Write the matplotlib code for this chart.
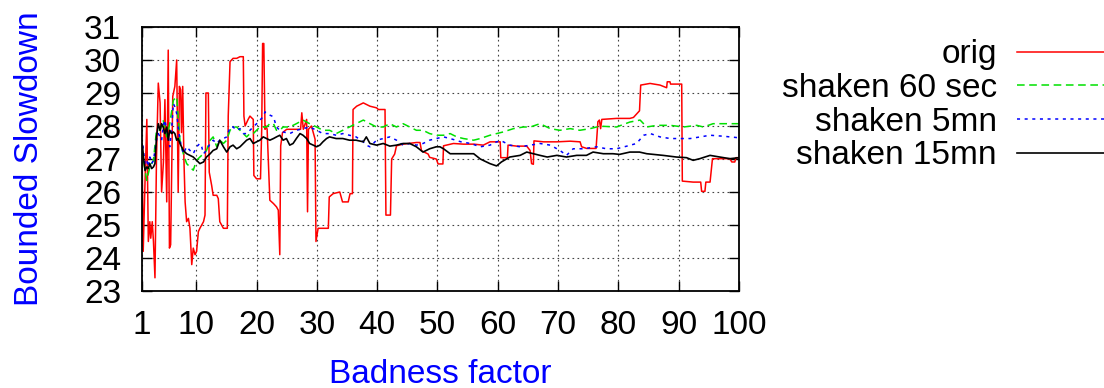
import matplotlib
matplotlib.use("Agg")
import matplotlib.pyplot as plt

plt.rcParams["font.family"] = ["Liberation Sans", "DejaVu Sans"]
plt.rcParams["font.size"] = 24

# === Data ===
orig_x = [1.0, 1.2, 1.5, 1.8, 2.05, 2.3, 2.45, 2.7, 2.9, 3.15, 3.4, 3.7, 4.0, 4.25, 4.55,
          4.8, 5.1, 5.35, 5.55, 5.75, 6.1, 6.45, 6.75, 7.0, 7.2, 7.4, 7.55, 7.75, 7.95,
          8.15, 8.4, 8.7, 8.95, 9.25, 9.5, 9.8, 10.05, 10.35, 10.6, 11.2, 11.45, 11.6,
          12.0, 12.15, 12.55, 12.8, 13.4, 13.65, 13.9, 14.5, 15.15, 15.3, 15.6, 16.1,
          16.7, 17.25, 17.8, 17.9, 18.1, 18.6, 18.9, 19.45, 19.55, 20.0, 20.65, 20.85,
          21.0, 21.2, 21.4, 21.55, 21.75, 22.2, 22.8, 23.3, 23.6, 23.85, 24.0, 24.3,
          25.0, 26.6, 27.3, 27.5, 27.75, 28.3, 28.45, 28.6, 29.1, 29.7, 29.85, 30.2,
          31.0, 31.9, 32.05, 32.7, 33.8, 34.25, 35.2, 35.5, 35.9, 36.0, 36.6, 37.7,
          38.8, 39.9, 40.2, 41.3, 41.45, 42.2, 42.4, 42.9, 43.2, 44.3, 46.5, 47.1,
          47.35, 48.45, 48.7, 49.8, 50.1, 50.9, 51.0, 52.65, 54.3, 56.0, 57.6, 58.7,
          60.4, 60.5, 61.6, 61.7, 63.15, 64.8, 65.35, 65.6, 65.9, 66.0, 67.6, 69.8,
          72.0, 73.65, 73.9, 74.75, 76.3, 76.6, 76.85, 77.05, 77.25, 79.7, 81.9, 82.5,
          83.5, 83.7, 85.25, 86.9, 88.0, 88.1, 88.55, 88.65, 90.5, 90.6, 92.4, 93.65,
          93.8, 94.35, 94.5, 95.2, 95.6, 98.5, 98.8, 99.3, 99.5, 100.0]
orig_y = [27.4, 24.2, 26.3, 28.2, 24.5, 25.1, 24.6, 25.1, 24.5, 23.4, 27.0, 29.3, 28.7, 26.0, 26.9,
          28.8, 25.7, 30.3, 24.3, 24.4, 28.9, 29.2, 30.0, 26.0, 29.2, 29.1, 27.8, 29.2, 27.0,
          25.7, 25.1, 25.2, 24.9, 23.8, 24.3, 24.1, 24.2, 24.8, 24.9, 25.1, 25.3, 29.0,
          29.0, 26.6, 26.2, 25.9, 25.9, 25.8, 25.1, 24.9, 24.9, 28.3, 29.95, 30.05,
          30.05, 30.1, 30.1, 28.3, 28.0, 28.2, 28.3, 28.2, 26.5, 26.4, 26.4, 27.9,
          30.5, 30.5, 27.9, 28.0, 27.9, 25.75, 25.65, 25.55, 25.45, 24.1, 27.4, 27.8,
          27.9, 27.9, 27.9, 28.4, 27.9, 28.2, 25.4, 27.9, 28.0, 27.6, 24.5, 24.9,
          24.9, 24.9, 25.85, 25.95, 26.0, 25.7, 25.7, 25.95, 25.95, 28.5, 28.6, 28.7,
          28.6, 28.55, 28.5, 28.5, 25.3, 25.3, 27.0, 27.15, 27.4, 27.45, 27.5, 27.5,
          27.25, 27.15, 27.05, 27.0, 26.85, 26.85, 27.4, 27.47, 27.45, 27.45, 27.42, 27.52,
          27.52, 27.04, 27.04, 27.42, 27.39, 27.39, 27.26, 26.86, 26.84, 27.55, 27.52, 27.52,
          27.54, 27.52, 27.37, 27.32, 27.32, 28.13, 28.18, 27.92, 28.2, 28.23, 28.23, 28.26,
          28.46, 29.24, 29.29, 29.24, 29.16, 29.34, 29.34, 29.27, 29.27, 26.33, 26.3, 26.3,
          26.02, 26.02, 26.3, 26.3, 27.01, 27.01, 26.91, 26.91, 27.04, 27.04]

sec60_x = [1.0, 1.2, 1.8, 2.3, 2.9, 3.4, 4.0, 4.5, 5.1, 5.6, 6.2, 6.75, 7.0, 7.3, 7.85, 8.4,
           8.95, 9.5, 10.05, 10.6, 11.2, 11.7, 12.3, 12.8, 13.4, 13.9, 14.5, 15.05, 15.6,
           16.1, 16.7, 17.25, 17.8, 18.35, 18.9, 19.45, 20.0, 20.55, 21.1, 21.65, 22.2,
           22.8, 23.3, 23.85, 24.4, 25.5, 26.6, 27.7, 28.8, 29.95, 31.0, 32.1, 33.2, 34.3,
           35.4, 36.5, 37.7, 38.8, 39.9, 41.0, 42.1, 43.2, 44.3, 45.4, 46.5, 47.6, 48.7,
           49.9, 51.0, 52.1, 53.2, 54.3, 56.0, 57.1, 58.7, 59.8, 60.9, 62.6, 64.25, 65.4,
           67.0, 68.7, 70.3, 72.0, 73.6, 75.3, 76.4, 77.5, 79.7, 81.9, 83.6, 84.7, 86.4,
           88.6, 90.8, 93.0, 94.1, 95.7, 98.5, 100.0]
sec60_y = [27.3, 27.0, 26.35, 26.76, 26.96, 27.87, 27.87, 28.18, 27.67, 28.07, 28.78, 28.89,
           28.28, 27.57, 27.16, 26.86, 26.76, 26.66, 26.96, 27.06, 27.16, 27.26, 27.57, 27.67,
           27.37, 27.57, 27.47, 27.57, 27.87, 27.97, 27.97, 27.87, 27.77, 27.67, 27.77, 27.77,
           27.87, 27.97, 27.97, 27.97, 28.07, 28.07, 27.87, 27.87, 27.97, 27.97, 28.07, 28.18,
           28.07, 27.97, 27.87, 27.87, 27.77, 27.87, 27.97, 28.07, 28.18, 28.07, 27.97, 27.97,
           28.07, 27.97, 28.07, 27.97, 27.87, 27.87, 27.77, 27.72, 27.72, 27.77, 27.67, 27.62,
           27.57, 27.62, 27.72, 27.77, 27.82, 27.92, 27.97, 27.97, 28.07, 27.92, 27.87, 27.92,
           27.87, 27.92, 27.97, 27.99, 27.97, 28.12, 28.18, 27.97, 28.02, 28.02, 27.97, 28.02,
           27.97, 28.07, 28.07, 28.07]

mn5_x = [1.0, 1.1, 1.5, 1.8, 2.05, 2.3, 2.6, 2.9, 3.4, 3.7, 4.0, 4.25, 4.5, 4.8, 5.1, 5.35,
         5.6, 5.9, 6.2, 6.45, 6.75, 7.0, 7.3, 7.55, 7.85, 8.4, 8.95, 9.5, 10.05, 10.6, 10.9,
         11.2, 11.7, 12.3, 12.8, 13.4, 13.9, 14.5, 15.05, 15.6, 16.1, 16.7, 17.25, 17.8,
         18.35, 18.9, 19.45, 20.0, 20.55, 21.1, 21.4, 21.65, 22.2, 22.8, 23.3, 23.85, 24.4,
         25.5, 26.6, 27.7, 28.8, 29.95, 31.0, 32.1, 33.2, 34.3, 35.4, 36.5, 37.7, 38.2, 38.8,
         39.9, 41.0, 42.1, 43.2, 44.3, 45.4, 46.5, 47.6, 48.7, 49.8, 51.0, 52.1, 53.9, 55.5,
         57.1, 58.7, 59.8, 60.6, 62.0, 63.7, 65.4, 67.0, 68.7, 70.3, 71.4, 72.5, 74.2, 76.4,
         78.0, 79.7, 81.4, 83.0, 84.2, 85.3, 86.9, 88.6, 90.3, 91.9, 93.6, 95.2, 97.4, 99.6,
         100.0]
mn5_y = [27.3, 27.47, 26.86, 26.96, 26.76, 27.06, 26.86, 26.96, 27.57, 27.77, 27.67, 27.57,
         27.97, 28.18, 27.87, 27.67, 27.37, 27.87, 28.68, 28.58, 28.38, 27.97, 27.57, 27.37,
         27.16, 27.37, 27.26, 27.16, 27.37, 27.47, 27.37, 27.16, 27.26, 27.47, 27.57, 27.47,
         27.57, 27.62, 27.67, 27.97, 27.97, 27.87, 27.92, 27.77, 27.77, 27.87, 27.97, 28.07,
         28.18, 28.28, 28.43, 28.38, 28.33, 28.28, 27.97, 27.87, 27.82, 27.77, 27.87, 27.92,
         27.97, 27.87, 27.77, 27.77, 27.72, 27.77, 27.72, 27.67, 27.52, 27.42, 27.37, 27.57,
         27.62, 27.67, 27.57, 27.42, 27.47, 27.42, 27.47, 27.57, 27.62, 27.67, 27.62, 27.52,
         27.47, 27.37, 27.42, 27.52, 27.55, 27.42, 27.37, 27.42, 27.47, 27.42, 27.26, 27.11,
         27.31, 27.31, 27.37, 27.31, 27.31, 27.39, 27.47, 27.72, 27.77, 27.67, 27.62, 27.62,
         27.62, 27.67, 27.72, 27.69, 27.65, 27.65]

mn15_x = [1.0, 1.1, 1.3, 1.5, 1.8, 2.05, 2.3, 2.6, 2.9, 3.15, 3.4, 3.7, 4.0, 4.25, 4.5, 4.8,
          5.1, 5.35, 5.6, 5.9, 6.2, 6.45, 6.75, 7.0, 7.3, 7.85, 8.4, 8.95, 9.5, 10.05, 10.6,
          11.2, 11.7, 12.3, 12.8, 13.4, 13.9, 14.5, 15.05, 15.6, 16.1, 16.7, 17.25, 17.8,
          18.35, 18.9, 19.45, 20.0, 20.55, 21.1, 21.65, 22.2, 22.8, 23.3, 23.85, 24.4, 24.95,
          25.5, 26.05, 26.6, 27.2, 27.7, 28.3, 28.8, 29.4, 29.95, 30.5, 31.0, 31.6, 32.1,
          33.2, 34.3, 35.4, 36.5, 37.7, 38.2, 38.8, 39.9, 41.0, 42.1, 43.2, 44.3, 45.4, 46.5,
          47.6, 48.7, 49.8, 50.4, 51.0, 52.1, 53.2, 54.3, 56.0, 57.1, 58.7, 59.8, 60.6, 62.0,
          63.7, 64.8, 65.9, 67.0, 68.2, 69.8, 71.4, 73.1, 74.7, 75.8, 77.5, 79.1, 80.2, 81.9,
          83.5, 84.7, 87.4, 89.6, 91.3, 92.4, 93.5, 95.2, 96.8, 98.5, 100.0]
mn15_y = [27.45, 27.37, 26.96, 26.65, 26.76, 26.71, 26.86, 26.71, 26.76, 26.86, 27.67, 28.07,
          27.87, 28.07, 27.97, 27.77, 27.97, 27.57, 27.87, 27.77, 27.82, 27.77, 27.57, 27.62,
          27.47, 27.26, 27.16, 27.11, 27.06, 26.96, 26.86, 26.91, 27.06, 27.16, 27.26, 27.31,
          27.57, 27.37, 27.21, 27.37, 27.42, 27.31, 27.37, 27.47, 27.57, 27.62, 27.47, 27.52,
          27.57, 27.67, 27.62, 27.57, 27.62, 27.67, 27.72, 27.57, 27.62, 27.42, 27.47, 27.62,
          27.77, 27.72, 27.62, 27.47, 27.42, 27.37, 27.42, 27.52, 27.62, 27.67, 27.62, 27.62,
          27.57, 27.57, 27.52, 27.67, 27.47, 27.42, 27.47, 27.39, 27.42, 27.47, 27.47, 27.37,
          27.21, 27.31, 27.37, 27.37, 27.31, 27.16, 27.16, 27.16, 27.16, 27.0, 26.86, 26.79,
          26.91, 27.06, 27.11, 27.21, 27.16, 27.11, 27.06, 27.11, 27.06, 27.11, 27.11, 27.21,
          27.16, 27.16, 27.14, 27.21, 27.21, 27.16, 27.11, 27.06, 27.04, 26.96, 27.01, 27.11,
          27.06, 27.01, 27.04]

x_ticks = [1, 10, 20, 30, 40, 50, 60, 70, 80, 90, 100]
y_ticks = [23, 24, 25, 26, 27, 28, 29, 30, 31]

# === Plotting ===
fig = plt.figure(figsize=(11.04, 3.88), dpi=100)
ax = fig.add_axes([142 / 1104, 1 - 291 / 388, 597 / 1104, 264 / 388])

ax.plot(orig_x, orig_y, color="#ff0000", lw=1.1, label="orig")
ax.plot(sec60_x, sec60_y, color="#00e000", lw=1.1, ls=(0, (5, 3)), label="shaken 60 sec")
ax.plot(mn5_x, mn5_y, color="#0000ff", lw=1.1, ls=(0, (2, 3)), label="shaken 5mn")
ax.plot(mn15_x, mn15_y, color="black", lw=1.2, label="shaken 15mn")

ax.set_xlim(1, 100)
ax.set_ylim(23, 31)
ax.set_xticks(x_ticks)
ax.set_yticks(y_ticks)
ax.tick_params(direction="in", length=7, width=1, top=True, right=True)
ax.tick_params(axis="y", pad=15)
ax.tick_params(axis="x", pad=14)
ax.grid(True, color="#444444", lw=0.8, ls=(0, (1.5, 3)))
for s in ax.spines.values():
    s.set_linewidth(1.3)

# x label: anchor on its baseline so it sits where the reference has it
ax.set_xlabel("Badness factor", color="blue", va="baseline")
ax.set_ylabel("Bounded Slowdown", color="blue")
ax.xaxis.set_label_coords(0.5, (291 - 383) / 264)
ax.yaxis.set_label_coords(-0.163, 0.5)

ax.legend(loc="upper right", bbox_to_anchor=(1.0055, 0.899), bbox_transform=fig.transFigure,
          markerfirst=False, frameon=False, handlelength=2.8, handletextpad=0.6,
          labelspacing=0.08, borderpad=0, borderaxespad=0)

plt.savefig("out.png", dpi=100)
